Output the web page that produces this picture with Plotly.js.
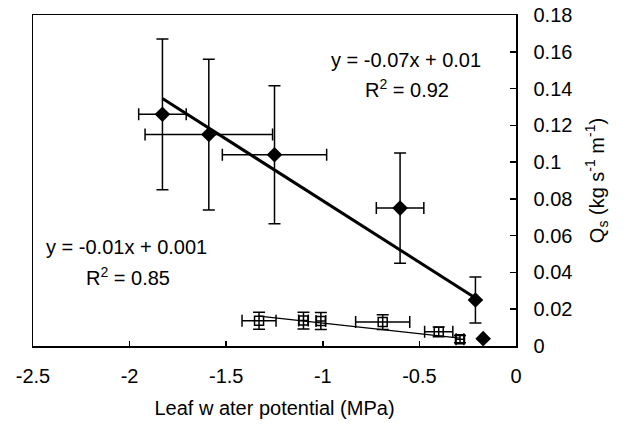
<!DOCTYPE html>
<html>
<head>
<meta charset="utf-8">
<script src="https://cdn.plot.ly/plotly-3.0.1.min.js"></script>
<style>html,body{margin:0;padding:0;background:#fff;}#chart{width:632px;height:436px;}</style>
</head>
<body>
<div id="chart"></div>
<script>
// Series 1: filled diamonds
var x1 = [-1.83, -1.59, -1.25, -0.60, -0.21, -0.17];
var y1 = [0.126, 0.115, 0.104, 0.075, 0.025, 0.004];
var ex1 = [0.123, 0.33, 0.27, 0.123, 0, 0];
var ey1 = [0.041, 0.041, 0.0375, 0.030, 0.0125, 0];

// Series 2: open squares
var x2 = [-1.33, -1.10, -1.01, -0.69, -0.40, -0.29];
var y2 = [0.0137, 0.0138, 0.0136, 0.013, 0.0077, 0.0037];
var ex2 = [0.088, 0.025, 0.025, 0.14, 0.073, 0.02];
var ey2 = [0.0046, 0.0046, 0.0046, 0.004, 0.0027, 0.002];

// Trend lines (end points)
var trend1X = [-1.83, -0.21];
var trend1Y = [0.1346, 0.0261];
var trend2X = [-1.33, -0.29];
var trend2Y = [0.0163, 0.0043];

var xTickVals = [-2.5, -2, -1.5, -1, -0.5, 0];
var xTickText = ["-2.5", "-2", "-1.5", "-1", "-0.5", "0"];
var yTickVals = [0, 0.02, 0.04, 0.06, 0.08, 0.1, 0.12, 0.14, 0.16, 0.18];
var yTickText = ["0", "0.02", "0.04", "0.06", "0.08", "0.1", "0.12", "0.14", "0.16", "0.18"];

var FONT = "Liberation Sans, Arial, sans-serif";
var FS = 20;

var traces = [
  {x: trend1X, y: trend1Y, mode: "lines", line: {color: "#000", width: 3}, hoverinfo: "skip"},
  {x: trend2X, y: trend2Y, mode: "lines", line: {color: "#000", width: 1.3}, hoverinfo: "skip"},
  {x: x1, y: y1, mode: "markers",
   marker: {symbol: "diamond", size: 12, color: "#000"},
   error_x: {type: "data", array: ex1, visible: true, color: "#000", thickness: 1.5, width: 6},
   error_y: {type: "data", array: ey1, visible: true, color: "#000", thickness: 1.5, width: 6}},
  {x: x2, y: y2, mode: "markers",
   marker: {symbol: "square-open", size: 9, color: "#000", line: {width: 1.5, color: "#000"}},
   error_x: {type: "data", array: ex2, visible: true, color: "#000", thickness: 1.5, width: 6},
   error_y: {type: "data", array: ey2, visible: true, color: "#000", thickness: 1.5, width: 6}}
];

function ann(x, y, text) {
  return {xref: "paper", yref: "paper", x: x, y: y, xanchor: "center", yanchor: "middle",
          text: text, showarrow: false, font: {family: FONT, size: FS, color: "#000"}};
}

var layout = {
  width: 632, height: 436,
  margin: {l: 33, r: 116, t: 15, b: 90},
  paper_bgcolor: "#fff", plot_bgcolor: "#fff",
  showlegend: false,
  font: {family: FONT, size: FS, color: "#000"},
  xaxis: {
    range: [-2.5, 0], tickvals: xTickVals, ticktext: xTickText,
    ticks: "inside", ticklen: 5, tickwidth: 1.5, tickcolor: "#000",
    showline: true, linecolor: "#000", linewidth: 1.5, mirror: true,
    showgrid: false, zeroline: false, ticklabelstandoff: 11,
    tickfont: {family: FONT, size: FS, color: "#000"},
    title: {text: "Leaf w ater potential (MPa)", font: {family: FONT, size: FS, color: "#000"}, standoff: 15}
  },
  yaxis: {
    range: [0, 0.18], side: "right", tickvals: yTickVals, ticktext: yTickText,
    ticks: "inside", ticklen: 6, tickwidth: 1.5, tickcolor: "#000",
    showline: true, linecolor: "#000", linewidth: 1.5, mirror: true,
    showgrid: false, zeroline: false, ticklabelstandoff: 12,
    tickfont: {family: FONT, size: FS, color: "#000"},
    title: {text: "Q<sub>s</sub> (kg s<sup>-1</sup> m<sup>-1</sup>)", font: {family: FONT, size: FS, color: "#000"}, standoff: 18}
  },
  annotations: [
    ann(0.773, 0.864, "y = -0.07x + 0.01"),
    ann(0.775, 0.779, "R<sup>2</sup> = 0.92"),
    ann(0.194, 0.299, "y = -0.01x + 0.001"),
    ann(0.196, 0.211, "R<sup>2</sup> = 0.85")
  ]
};

Plotly.newPlot("chart", traces, layout, {displayModeBar: false, staticPlot: true});
</script>
</body>
</html>
